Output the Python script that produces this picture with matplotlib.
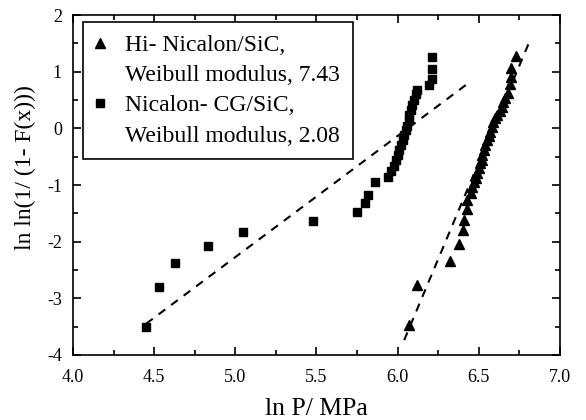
import matplotlib
matplotlib.use('Agg')
import matplotlib.pyplot as plt
import numpy as np
from matplotlib.ticker import MultipleLocator, FormatStrFormatter
from matplotlib.lines import Line2D

plt.rcParams['font.family'] = ['Liberation Serif', 'DejaVu Serif']
plt.rcParams['axes.unicode_minus'] = False

# Hi-Nicalon/SiC data (triangles)
hi_x = [6.07, 6.12, 6.32, 6.38, 6.40, 6.41, 6.43, 6.43, 6.45, 6.46, 6.47, 6.48,
        6.49, 6.50, 6.51, 6.52, 6.52, 6.53, 6.54, 6.55, 6.56, 6.57, 6.58, 6.59,
        6.60, 6.61, 6.63, 6.64, 6.65, 6.66, 6.68, 6.69, 6.70, 6.70, 6.73]
hi_y = [-3.47, -2.77, -2.34, -2.05, -1.80, -1.61, -1.43, -1.27, -1.14, -1.03, -0.95, -0.87,
        -0.79, -0.70, -0.62, -0.55, -0.47, -0.39, -0.30, -0.21, -0.13, -0.06, 0.03, 0.11,
        0.18, 0.24, 0.31, 0.38, 0.46, 0.53, 0.63, 0.78, 0.90, 1.06, 1.27]

# Nicalon-CG/SiC data (squares)
cg_x = [4.45, 4.53, 4.63, 4.83, 5.05, 5.48, 5.75, 5.80, 5.82, 5.86,
        5.94, 5.96, 5.98, 5.99, 6.00, 6.01, 6.02, 6.03, 6.04, 6.05, 6.06,
        6.07, 6.07, 6.08, 6.09, 6.10, 6.11, 6.12, 6.19, 6.21, 6.21, 6.21]
cg_y = [-3.50, -2.80, -2.38, -2.08, -1.83, -1.64, -1.47, -1.31, -1.17, -0.95,
        -0.86, -0.76, -0.66, -0.56, -0.47, -0.38, -0.30, -0.21, -0.12, -0.03, 0.05,
        0.14, 0.23, 0.32, 0.41, 0.50, 0.60, 0.68, 0.76, 0.88, 1.04, 1.26]

# Weibull fit lines: (x start, x end, y at start, slope)
hi_fit = (6.04, 6.82, -3.74, 6.83)
cg_fit = (4.45, 6.43, -3.45, 2.14)

labels = ["Hi- Nicalon/SiC,", "Weibull modulus, 7.43",
          "Nicalon- CG/SiC,", "Weibull modulus, 2.08"]

fig = plt.figure(figsize=(5.86, 4.2), dpi=100)
ax = fig.add_axes([0.1246, 0.155, 0.831, 0.809])

for x0, x1, y0, m in (hi_fit, cg_fit):
    xs = np.array([x0, x1])
    ax.plot(xs, y0 + m * (xs - x0), color='black', lw=1.5, dashes=(4, 3.5))

ax.plot(hi_x, hi_y, linestyle='none', marker='^', color='black', markersize=6.5)
ax.plot(cg_x, cg_y, linestyle='none', marker='s', color='black', markersize=5.5)

ax.set_xlim(4.0, 7.0)
ax.set_ylim(-4, 2)
ax.xaxis.set_major_locator(MultipleLocator(0.5))
ax.xaxis.set_minor_locator(MultipleLocator(0.25))
ax.yaxis.set_major_locator(MultipleLocator(1))
ax.yaxis.set_minor_locator(MultipleLocator(0.5))
ax.xaxis.set_major_formatter(FormatStrFormatter('%.1f'))
ax.yaxis.set_major_formatter(FormatStrFormatter('%d'))
ax.tick_params(which='both', direction='in', top=True, right=True, labelsize=13, width=1.2)
ax.tick_params(which='major', length=6)
ax.tick_params(which='minor', length=3.5)
ax.tick_params(axis='x', which='major', pad=10)
ax.tick_params(axis='y', which='major', pad=8)
for s in ax.spines.values():
    s.set_linewidth(1.2)

ax.set_xlabel("ln P/ MPa", fontsize=18.5, labelpad=9)
ax.set_ylabel("ln ln(1/ (1- F(x)))", fontsize=17)
ax.yaxis.set_label_coords(-0.075, 0.55)

blank = Line2D([], [], linestyle='none', marker='none')
handles = [Line2D([], [], linestyle='none', marker='^', color='black', markersize=7),
           blank,
           Line2D([], [], linestyle='none', marker='s', color='black', markersize=5.5),
           blank]
leg = ax.legend(handles, labels, loc='upper left', bbox_to_anchor=(0.02, 0.98),
                fontsize=17, frameon=True, fancybox=False, framealpha=1,
                edgecolor='black', handlelength=0.35, handletextpad=0.9,
                labelspacing=0.36, borderpad=0.55, borderaxespad=0)
leg.get_frame().set_linewidth(1.2)

fig.savefig('out.png', dpi=100)
